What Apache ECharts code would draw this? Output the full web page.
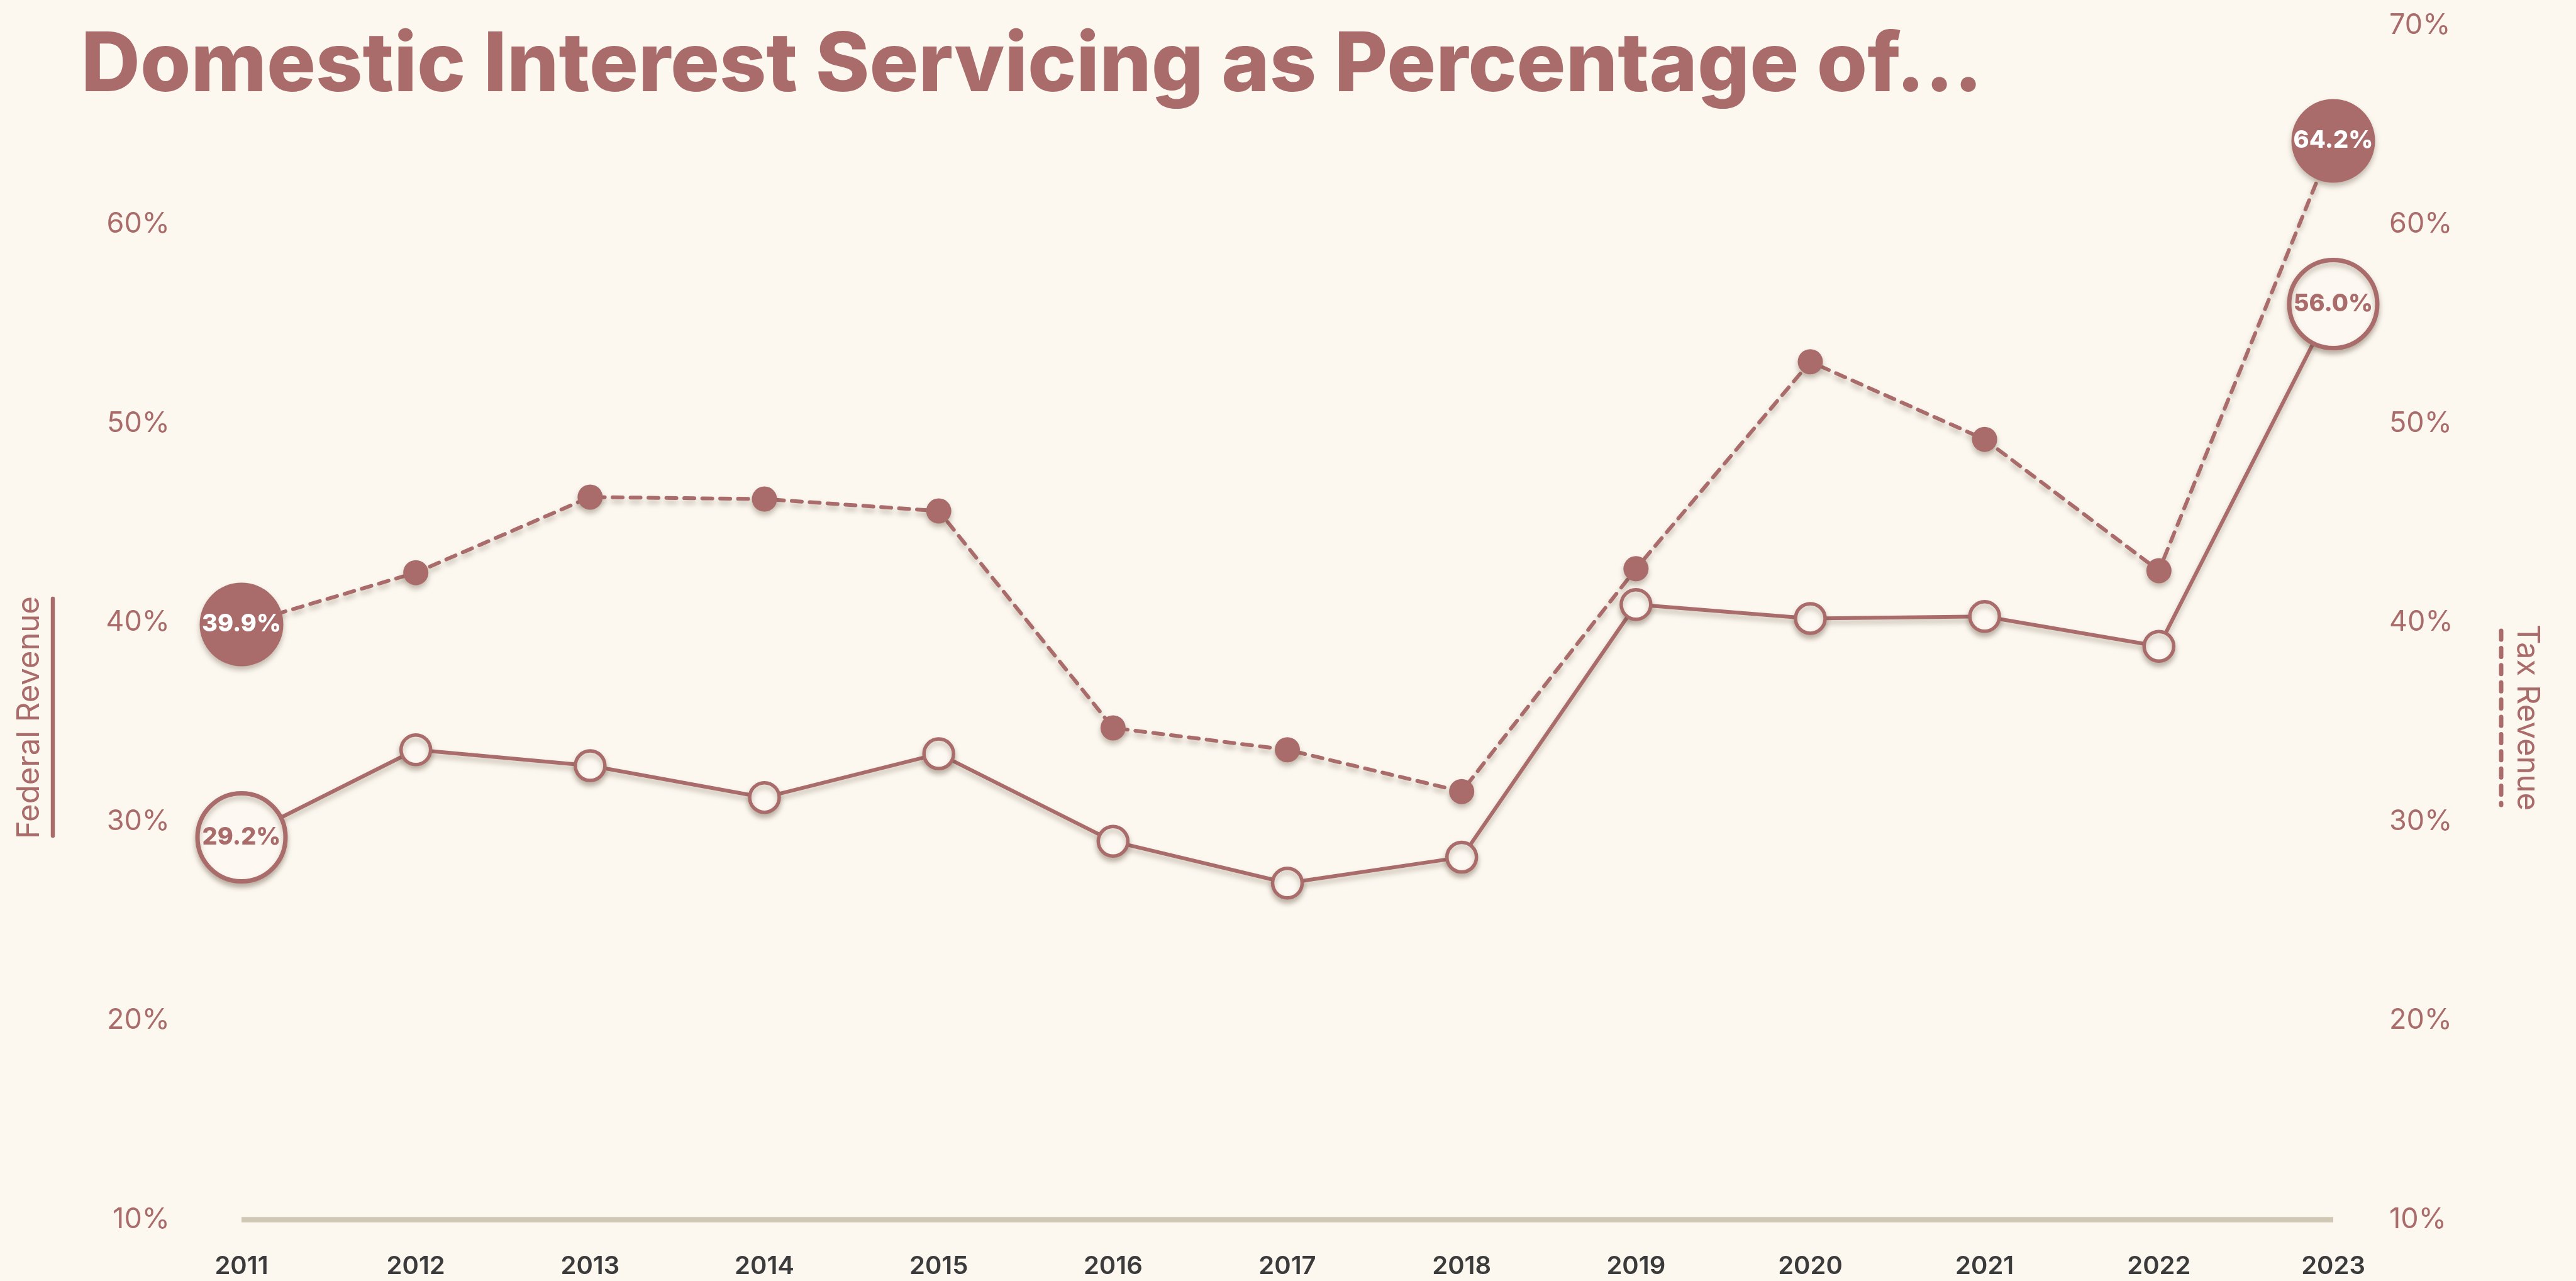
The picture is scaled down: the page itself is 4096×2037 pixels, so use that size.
<!DOCTYPE html>
<html>
<head>
<meta charset="utf-8">
<title>Domestic Interest Servicing as Percentage of...</title>
<script src="https://cdn.jsdelivr.net/npm/echarts@6/dist/echarts.min.js"></script>
<style>
  html, body { margin: 0; padding: 0; background: #fcf8f0; }
  #chart { width: 4096px; height: 2037px; }
</style>
</head>
<body>
<div id="chart"></div>
<script>
// Fiscal years on the x axis
const years = ['2011', '2012', '2013', '2014', '2015', '2016', '2017', '2018', '2019', '2020', '2021', '2022', '2023'];

// Domestic interest servicing as a share of federal revenue (%)
const federalRevenue = [29.2, 33.6, 32.8, 31.2, 33.4, 29.0, 26.9, 28.2, 40.9, 40.2, 40.3, 38.8, 56.0];

// Domestic interest servicing as a share of tax revenue (%)
const taxRevenue = [39.9, 42.5, 46.3, 46.2, 45.6, 34.7, 33.6, 31.5, 42.7, 53.1, 49.2, 42.6, 64.2];

// Percentage scale shared by both value axes
const yMin = 10;
const yMax = 70;
const yStep = 10;

const ROSE = '#a96c6b';
const CREAM = '#fdf9f2';
const FONT = 'Inter, "Noto Sans", sans-serif';
const SHADOW = 'rgba(90, 70, 50, 0.35)';

const pct = v => v + '%';
const lastIndex = years.length - 1;

// First and last points become large labelled discs
function withEndLabels(values, big) {
  return values.map((v, i) => {
    if (i !== 0 && i !== lastIndex) return v;
    return Object.assign({ value: v }, big);
  });
}

const chart = echarts.init(document.getElementById('chart'), null, { renderer: 'canvas' });

chart.setOption({
  backgroundColor: '#fcf8f0',
  animation: false,
  title: {
    text: 'Domestic Interest Servicing as Percentage of...',
    left: 124,
    top: 36,
    textStyle: { fontFamily: FONT, fontSize: 130, fontWeight: 800, color: ROSE }
  },
  grid: { left: 384, right: 386, top: 40.5, bottom: 98, containLabel: false },
  xAxis: {
    type: 'category',
    data: years,
    boundaryGap: false,
    axisLine: { show: true, lineStyle: { color: '#d0c8b4', width: 8.5, cap: 'butt' } },
    axisTick: { show: false },
    splitLine: { show: false },
    axisLabel: { margin: 55, fontFamily: FONT, fontSize: 40, fontWeight: 600, color: '#3b3b3b' }
  },
  yAxis: [
    {
      type: 'value', position: 'left', min: yMin, max: yMax, interval: yStep,
      axisLine: { show: false }, axisTick: { show: false }, splitLine: { show: false },
      axisLabel: {
        margin: 114, fontFamily: FONT, fontSize: 45, color: ROSE,
        formatter: v => (v === yMax ? '' : pct(v))
      }
    },
    {
      type: 'value', position: 'right', min: yMin, max: yMax, interval: yStep,
      axisLine: { show: false }, axisTick: { show: false }, splitLine: { show: false },
      axisLabel: { margin: 89, fontFamily: FONT, fontSize: 45, color: ROSE, formatter: pct }
    }
  ],
  series: [
    {
      name: 'Tax Revenue',
      type: 'line',
      yAxisIndex: 1,
      data: withEndLabels(taxRevenue, {
        symbolSize: 133,
        label: {
          show: true, position: 'inside', fontFamily: FONT, fontSize: 38, fontWeight: 800,
          color: '#ffffff', formatter: p => p.value.toFixed(1) + '%'
        }
      }),
      symbol: 'circle',
      symbolSize: 40,
      showAllSymbol: true,
      lineStyle: {
        color: ROSE, width: 6, type: [16, 12.5], cap: 'round',
        shadowColor: SHADOW, shadowBlur: 8, shadowOffsetY: 6
      },
      itemStyle: { color: ROSE, shadowColor: SHADOW, shadowBlur: 8, shadowOffsetY: 6 },
      emphasis: { disabled: true },
      z: 3
    },
    {
      name: 'Federal Revenue',
      type: 'line',
      yAxisIndex: 0,
      data: withEndLabels(federalRevenue, {
        symbolSize: 140,
        itemStyle: { borderWidth: 7 },
        label: {
          show: true, position: 'inside', fontFamily: FONT, fontSize: 38, fontWeight: 800,
          color: ROSE, formatter: p => p.value.toFixed(1) + '%'
        }
      }),
      symbol: 'circle',
      symbolSize: 47,
      showAllSymbol: true,
      lineStyle: {
        color: ROSE, width: 6,
        shadowColor: SHADOW, shadowBlur: 8, shadowOffsetY: 6
      },
      itemStyle: {
        color: CREAM, borderColor: ROSE, borderWidth: 5.5,
        shadowColor: SHADOW, shadowBlur: 8, shadowOffsetY: 6
      },
      emphasis: { disabled: true },
      z: 4
    }
  ],
  graphic: [
    // Left axis legend: solid rule beside the rotated title
    {
      type: 'text', x: 46.8, y: 1141, rotation: Math.PI / 2,
      style: { text: 'Federal Revenue', fontFamily: FONT, fontSize: 49, fill: ROSE, align: 'center', verticalAlign: 'middle' }
    },
    {
      type: 'line', shape: { x1: 84, y1: 952, x2: 84, y2: 1329 },
      style: { stroke: ROSE, lineWidth: 6.5, lineCap: 'round' }
    },
    // Right axis legend: dashed rule beside the rotated title
    {
      type: 'text', x: 4018, y: 1141, rotation: -Math.PI / 2,
      style: { text: 'Tax Revenue', fontFamily: FONT, fontSize: 49, fill: ROSE, align: 'center', verticalAlign: 'middle' }
    },
    {
      type: 'line', shape: { x1: 3977, y1: 1003, x2: 3977, y2: 1280 },
      style: { stroke: ROSE, lineWidth: 7, lineCap: 'round', lineDash: [14, 13.4] }
    }
  ]
});
</script>
</body>
</html>
